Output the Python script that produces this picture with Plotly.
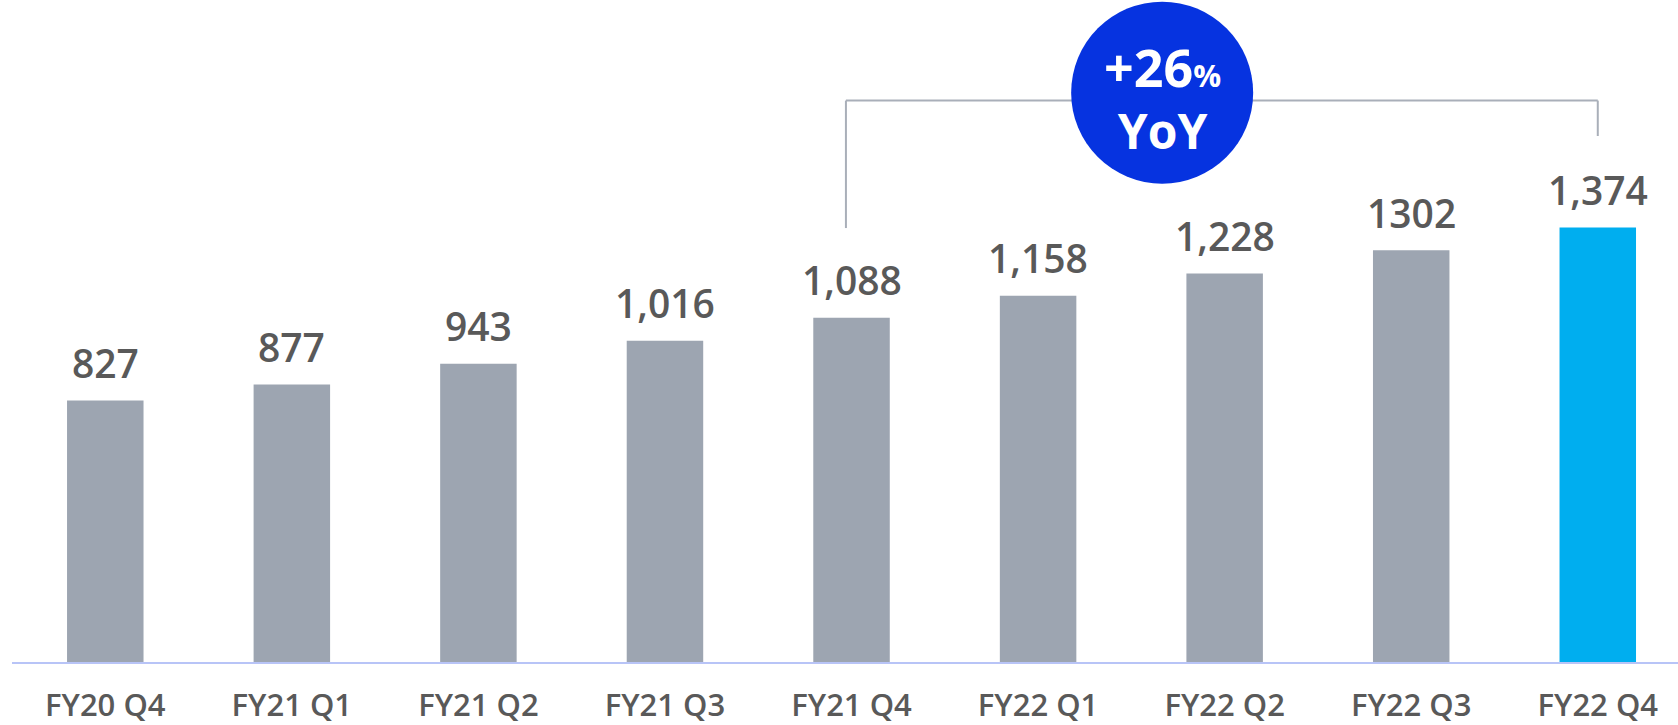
import plotly.graph_objects as go

quarters = ["FY20 Q4", "FY21 Q1", "FY21 Q2", "FY21 Q3", "FY21 Q4",
            "FY22 Q1", "FY22 Q2", "FY22 Q3", "FY22 Q4"]
values = [827, 877, 943, 1016, 1088, 1158, 1228, 1302, 1374]
value_labels = ["827", "877", "943", "1,016", "1,088", "1,158", "1,228", "1302", "1,374"]
growth_text = "+26"
growth_sub = "YoY"

GREY = "#9DA5B1"
CYAN = "#00AEEF"
BLUE = "#0633E0"
TEXT = "#595959"
FONT = "Open Sans"

bar_colors = [GREY] * (len(values) - 1) + [CYAN]
idx = list(range(len(quarters)))

fig = go.Figure(go.Bar(
    x=idx,
    y=values,
    marker_color=bar_colors,
    marker_line_width=0,
    width=0.41,
    hoverinfo="skip",
))

# value labels above bars
for i, (v, lab) in enumerate(zip(values, value_labels)):
    fig.add_annotation(
        x=i, y=v, text=lab, showarrow=False,
        yanchor="middle", yshift=38,
        font={"family": FONT, "size": 39, "color": TEXT, "weight": 600},
    )

# bracket from FY21 Q4 to FY22 Q4
line_style = {"color": "#A9AFB9", "width": 2}
bx0, bx1, by = 3.97, 8, 1775
fig.add_shape(type="line", x0=bx0, x1=bx0, y0=1372, y1=by, line=line_style)
fig.add_shape(type="line", x0=bx0, x1=bx1, y0=by, y1=by, line=line_style)
fig.add_shape(type="line", x0=bx1, x1=bx1, y0=1663, y1=by, line=line_style)

# YoY badge
cx, cy = 5.665, 1800
fig.add_shape(
    type="circle", xsizemode="pixel", ysizemode="pixel",
    xanchor=cx, yanchor=cy, x0=-91, x1=91, y0=-91, y1=91,
    fillcolor=BLUE, line_width=0,
)
fig.add_annotation(
    x=cx, y=cy, yshift=-4, showarrow=False, yanchor="middle",
    text=(f"<span style='font-size:52px'>{growth_text}</span>"
          f"<span style='font-size:31px'>%</span><br>{growth_sub}"),
    font={"family": FONT, "size": 48, "color": "white", "weight": 700},
)

fig.update_layout(
    width=1678, height=725,
    margin={"l": 12, "r": 0, "t": 0, "b": 63},
    plot_bgcolor="white", paper_bgcolor="white",
    showlegend=False,
    xaxis={
        "range": [-0.5, 8.43],
        "tickvals": idx, "ticktext": quarters,
        "showgrid": False, "zeroline": False,
        "showline": True, "linecolor": "#B8C4F7", "linewidth": 2,
        "ticks": "outside", "ticklen": 15, "tickcolor": "rgba(0,0,0,0)",
        "tickfont": {"family": FONT, "size": 31, "color": TEXT, "weight": 600},
        "automargin": False, "fixedrange": True,
    },
    yaxis={
        "range": [0, 2093],
        "visible": False, "showgrid": False, "zeroline": False,
        "fixedrange": True,
    },
)

# drop the default page margin so the figure sits at the window's corner
fig.write_html("out.html", config={"displayModeBar": False},
               post_script="document.body.style.margin='0';")
